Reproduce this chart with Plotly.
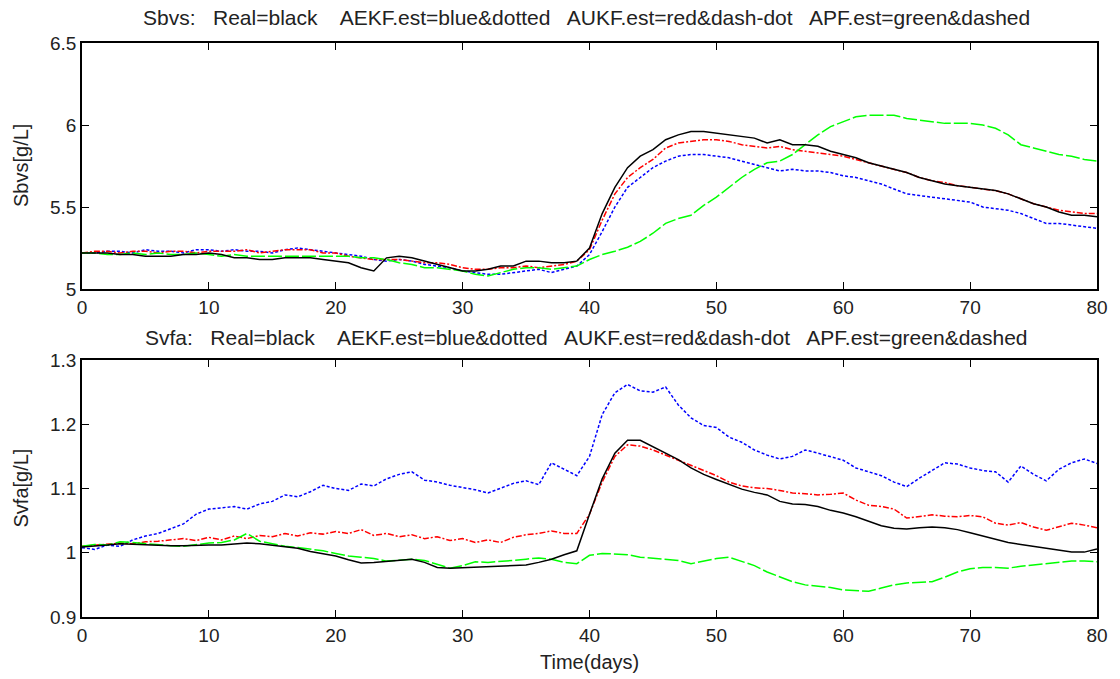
import plotly.graph_objects as go

days = list(range(0, 81))

sbvs_real = [5.22,5.22,5.22,5.21,5.21,5.20,5.20,5.20,5.21,5.21,5.22,5.21,5.19,5.19,5.18,5.18,5.19,5.19,5.19,5.18,
             5.17,5.16,5.13,5.11,5.19,5.20,5.19,5.17,5.15,5.13,5.11,5.11,5.12,5.14,5.14,5.17,5.17,5.16,5.16,5.17,
             5.25,5.46,5.62,5.74,5.81,5.85,5.91,5.94,5.96,5.96,5.95,5.94,5.93,5.92,5.89,5.91,5.88,5.88,5.87,5.84,
             5.82,5.80,5.77,5.75,5.73,5.71,5.68,5.66,5.64,5.63,5.62,5.61,5.60,5.58,5.55,5.52,5.50,5.47,5.45,5.45,5.44]
sbvs_aekf = [5.22,5.22,5.23,5.23,5.22,5.24,5.23,5.23,5.22,5.24,5.24,5.23,5.24,5.23,5.23,5.22,5.24,5.25,5.24,5.23,
             5.22,5.21,5.20,5.18,5.17,5.18,5.17,5.15,5.14,5.13,5.11,5.10,5.09,5.09,5.10,5.11,5.12,5.10,5.12,5.14,
             5.21,5.35,5.50,5.62,5.68,5.74,5.78,5.81,5.82,5.82,5.81,5.80,5.78,5.76,5.74,5.72,5.73,5.72,5.72,5.71,
             5.69,5.68,5.66,5.64,5.61,5.58,5.57,5.56,5.55,5.54,5.53,5.50,5.49,5.48,5.46,5.43,5.40,5.40,5.39,5.38,5.37]
sbvs_aukf = [5.22,5.23,5.23,5.22,5.23,5.23,5.22,5.23,5.23,5.22,5.23,5.23,5.23,5.24,5.22,5.23,5.24,5.24,5.24,5.22,
             5.22,5.20,5.19,5.18,5.18,5.18,5.17,5.16,5.16,5.15,5.13,5.12,5.12,5.13,5.13,5.14,5.13,5.14,5.15,5.17,
             5.24,5.42,5.58,5.68,5.74,5.79,5.86,5.89,5.90,5.91,5.91,5.90,5.88,5.87,5.86,5.87,5.85,5.84,5.83,5.82,
             5.81,5.79,5.77,5.75,5.73,5.71,5.68,5.66,5.65,5.63,5.62,5.61,5.60,5.58,5.55,5.52,5.50,5.48,5.47,5.46,5.46]
sbvs_apf = [5.22,5.22,5.21,5.21,5.22,5.21,5.22,5.21,5.21,5.22,5.21,5.20,5.21,5.20,5.20,5.20,5.20,5.20,5.20,5.20,
            5.20,5.20,5.19,5.19,5.18,5.16,5.15,5.13,5.13,5.12,5.11,5.09,5.08,5.10,5.12,5.13,5.13,5.12,5.13,5.14,
            5.18,5.21,5.23,5.255,5.29,5.34,5.40,5.43,5.45,5.51,5.56,5.62,5.68,5.73,5.77,5.78,5.82,5.88,5.94,5.99,
            6.02,6.05,6.06,6.06,6.06,6.04,6.03,6.02,6.01,6.01,6.01,6.00,5.98,5.94,5.88,5.86,5.84,5.82,5.81,5.79,5.78]

svfa_real = [1.009,1.010,1.012,1.014,1.013,1.012,1.011,1.011,1.011,1.012,1.012,1.012,1.014,1.015,1.014,1.012,1.010,1.007,1.002,0.999,
             0.995,0.989,0.984,0.985,0.987,0.988,0.990,0.985,0.977,0.976,0.977,0.978,0.978,0.979,0.980,0.981,0.985,0.990,0.997,1.003,
             1.060,1.115,1.155,1.175,1.175,1.165,1.156,1.145,1.132,1.122,1.114,1.106,1.099,1.094,1.090,1.080,1.076,1.075,1.072,1.066,
             1.062,1.056,1.049,1.042,1.038,1.037,1.039,1.040,1.039,1.036,1.031,1.026,1.021,1.016,1.013,1.010,1.007,1.003,1.001,1.001,1.006]
svfa_aekf = [1.008,1.005,1.012,1.010,1.020,1.026,1.030,1.038,1.045,1.060,1.068,1.070,1.072,1.068,1.076,1.080,1.090,1.087,1.095,1.105,
             1.100,1.097,1.107,1.104,1.115,1.122,1.126,1.113,1.110,1.105,1.102,1.098,1.093,1.100,1.108,1.112,1.106,1.140,1.130,1.120,
             1.150,1.215,1.249,1.262,1.252,1.250,1.258,1.230,1.210,1.198,1.195,1.180,1.172,1.160,1.152,1.146,1.150,1.160,1.155,1.150,
             1.144,1.132,1.126,1.120,1.110,1.103,1.116,1.128,1.140,1.138,1.132,1.128,1.126,1.110,1.135,1.122,1.112,1.130,1.140,1.146,1.139]
svfa_aukf = [1.010,1.012,1.013,1.015,1.014,1.017,1.018,1.020,1.022,1.019,1.024,1.020,1.026,1.022,1.027,1.025,1.030,1.026,1.031,1.029,
             1.033,1.030,1.036,1.027,1.030,1.025,1.028,1.022,1.025,1.019,1.022,1.016,1.020,1.016,1.024,1.028,1.030,1.034,1.030,1.030,
             1.060,1.110,1.150,1.168,1.166,1.160,1.152,1.145,1.136,1.128,1.120,1.110,1.104,1.101,1.100,1.097,1.093,1.092,1.090,1.091,
             1.093,1.082,1.074,1.072,1.068,1.054,1.056,1.059,1.057,1.056,1.058,1.056,1.046,1.043,1.047,1.040,1.035,1.040,1.046,1.043,1.039]
svfa_apf = [1.010,1.013,1.012,1.017,1.016,1.014,1.012,1.011,1.010,1.013,1.015,1.016,1.020,1.030,1.018,1.014,1.010,1.008,1.006,1.003,
            0.999,0.995,0.993,0.991,0.987,0.989,0.990,0.988,0.982,0.976,0.980,0.986,0.985,0.986,0.988,0.990,0.992,0.990,0.985,0.983,
            0.996,0.999,0.998,0.997,0.993,0.991,0.990,0.988,0.983,0.987,0.991,0.993,0.986,0.980,0.970,0.962,0.955,0.950,0.948,0.946,
            0.942,0.941,0.940,0.945,0.950,0.953,0.954,0.955,0.962,0.970,0.975,0.977,0.977,0.976,0.979,0.981,0.984,0.986,0.987,0.987,0.986]

x_ticks = [0, 10, 20, 30, 40, 50, 60, 70, 80]
top_ticks = [5, 5.5, 6, 6.5]
top_tick_text = ["5", "5.5", "6", "6.5"]
bot_ticks = [0.9, 1.0, 1.1, 1.2, 1.3]
bot_tick_text = ["0.9", "1", "1.1", "1.2", "1.3"]

title_top = "Sbvs:   Real=black    AEKF.est=blue&dotted   AUKF.est=red&dash-dot   APF.est=green&dashed"
title_bot = "Svfa:   Real=black    AEKF.est=blue&dotted   AUKF.est=red&dash-dot   APF.est=green&dashed"
ylabel_top = "Sbvs[g/L]"
ylabel_bot = "Svfa[g/L]"
xlabel = "Time(days)"

FONT = "Liberation Sans, Arial, sans-serif"

fig = go.Figure()

styles = [
    ("#0000ff", "3px,2px"),
    ("#ff0000", "6px,2px,2px,2px"),
    ("#00ff00", "14px,3px"),
    ("#000000", "solid"),
]

for (ya, xa, series) in [("y", "x", [sbvs_aekf, sbvs_aukf, sbvs_apf, sbvs_real]),
                         ("y2", "x2", [svfa_aekf, svfa_aukf, svfa_apf, svfa_real])]:
    for s, (col, dash) in zip(series, styles):
        fig.add_trace(go.Scatter(x=days, y=s, mode="lines", xaxis=xa, yaxis=ya,
                                 line=dict(color=col, width=1.5, dash=dash),
                                 showlegend=False, hoverinfo="skip"))

axis_common = dict(showline=True, linecolor="black", linewidth=1.5, mirror="ticks",
                   ticks="inside", ticklen=7, tickwidth=1.3, tickcolor="black",
                   showgrid=False, zeroline=False,
                   tickfont=dict(family=FONT, size=19, color="#222"))

TOP_D = [0.5714, 1]
BOT_D = [0, 0.4477]

fig.update_layout(
    width=1120, height=679,
    paper_bgcolor="white", plot_bgcolor="white",
    margin=dict(l=82, r=16, t=43, b=62),
    xaxis=dict(domain=[0, 1], range=[0, 80], tickvals=x_ticks, anchor="y", **axis_common),
    yaxis=dict(domain=TOP_D, range=[5, 6.5], tickvals=top_ticks, ticktext=top_tick_text,
               anchor="x", **axis_common),
    xaxis2=dict(domain=[0, 1], range=[0, 80], tickvals=x_ticks, anchor="y2", **axis_common),
    yaxis2=dict(domain=BOT_D, range=[0.9, 1.3], tickvals=bot_ticks, ticktext=bot_tick_text,
                anchor="x2", **axis_common),
    annotations=[
        dict(text=title_top, x=0.5, y=TOP_D[1], xref="paper", yref="paper", xanchor="center", yanchor="middle",
             xshift=-3, yshift=26, showarrow=False, font=dict(family=FONT, size=21, color="#222")),
        dict(text=title_bot, x=0.5, y=BOT_D[1], xref="paper", yref="paper", xanchor="center", yanchor="middle",
             xshift=-3, yshift=23, showarrow=False, font=dict(family=FONT, size=21, color="#222")),
        dict(text=ylabel_top, x=0, y=(TOP_D[0] + TOP_D[1]) / 2, xref="paper", yref="paper",
             xanchor="center", yanchor="middle", xshift=-61, textangle=-90, showarrow=False,
             font=dict(family=FONT, size=20, color="#222")),
        dict(text=ylabel_bot, x=0, y=(BOT_D[0] + BOT_D[1]) / 2, xref="paper", yref="paper",
             xanchor="center", yanchor="middle", xshift=-61, textangle=-90, showarrow=False,
             font=dict(family=FONT, size=20, color="#222")),
        dict(text=xlabel, x=0.5, y=0, xref="paper", yref="paper", xanchor="center", yanchor="middle",
             yshift=-45, showarrow=False, font=dict(family=FONT, size=20, color="#222")),
    ],
)

fig.write_html("out.html")
